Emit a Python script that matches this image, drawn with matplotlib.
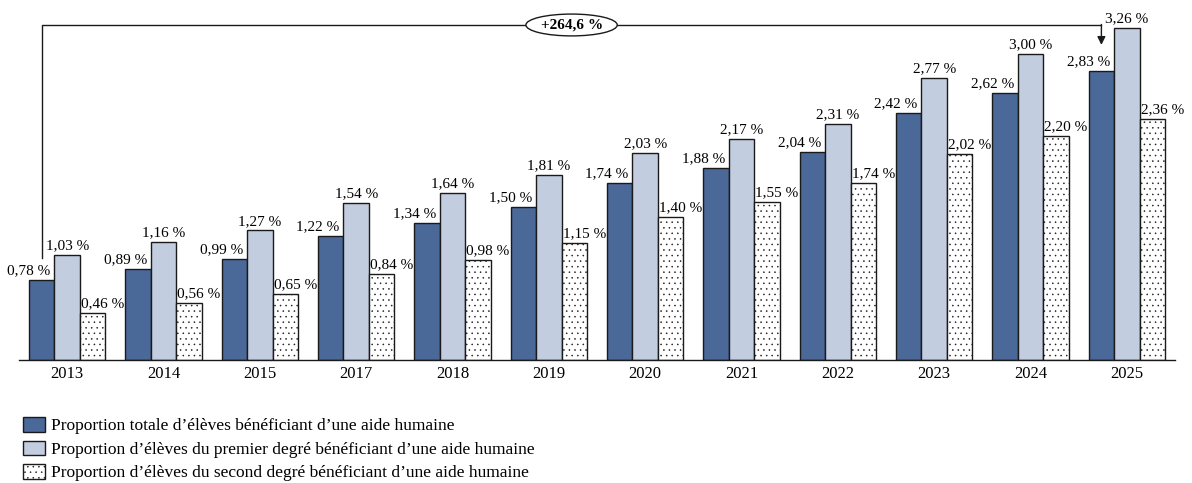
import matplotlib
matplotlib.use("Agg")
import matplotlib.pyplot as plt
from matplotlib.patches import Patch
import numpy as np

plt.rcParams['font.family'] = ['Liberation Serif', 'DejaVu Serif']
plt.rcParams['hatch.linewidth'] = 0.35

years = ["2013", "2014", "2015", "2017", "2018", "2019", "2020", "2021", "2022", "2023", "2024", "2025"]
total = [0.78, 0.89, 0.99, 1.22, 1.34, 1.50, 1.74, 1.88, 2.04, 2.42, 2.62, 2.83]
premier = [1.03, 1.16, 1.27, 1.54, 1.64, 1.81, 2.03, 2.17, 2.31, 2.77, 3.00, 3.26]
second = [0.46, 0.56, 0.65, 0.84, 0.98, 1.15, 1.40, 1.55, 1.74, 2.02, 2.20, 2.36]
labels = ["Proportion totale d\u2019élèves bénéficiant d\u2019une aide humaine",
          "Proportion d\u2019élèves du premier degré bénéficiant d\u2019une aide humaine",
          "Proportion d\u2019élèves du second degré bénéficiant d\u2019une aide humaine"]
evolution = "+264,6\u00a0%"

c_total = "#4a6898"
c_premier = "#c3cde0"
edge = "#1a1a1a"

W, H = 1192, 483
fig = plt.figure(figsize=(W / 100, H / 100), dpi=100)
ax = fig.add_axes([19 / W, 123 / H, 1156 / W, 360 / H])

x = np.arange(len(years))
w = 0.264
fs = 11

def fmt(v):
    return f"{v:.2f}".replace(".", ",") + "\u00a0%"

ax.bar(x - w, total, w, color=c_total, edgecolor=edge, linewidth=1.0)
ax.bar(x, premier, w, color=c_premier, edgecolor=edge, linewidth=1.0)
ax.bar(x + w, second, w, color="white", edgecolor=edge, linewidth=1.0, hatch="...")

for i in range(len(years)):
    ax.annotate(fmt(total[i]), (x[i] - 1.5 * w, total[i]), xytext=(0, 2), textcoords="offset points",
                ha="center", va="bottom", fontsize=fs)
    ax.annotate(fmt(premier[i]), (x[i], premier[i]), xytext=(0, 2), textcoords="offset points",
                ha="center", va="bottom", fontsize=fs)
    ax.annotate(fmt(second[i]), (x[i] + 1.4 * w, second[i]), xytext=(0, 2), textcoords="offset points",
                ha="center", va="bottom", fontsize=fs)

ax.set_xlim(-0.5, len(years) - 0.5)
ax.set_ylim(0, 3.53)
ax.set_xticks(x)
ax.set_xticklabels(years, fontsize=12)
ax.tick_params(axis="x", length=0, pad=4.5)
ax.set_yticks([])
for s in ["top", "left", "right"]:
    ax.spines[s].set_visible(False)
ax.spines["bottom"].set_linewidth(1.0)
ax.spines["bottom"].set_color(edge)

# bracket
xl = x[0] - w
xr = x[-1] - w
ytop = 3.285
ax.plot([xl, xl, xr], [1.0, ytop, ytop], color=edge, linewidth=1.0, clip_on=False)
ax.annotate("", xy=(xr, 3.09), xytext=(xr, ytop + 0.005),
            arrowprops=dict(arrowstyle="-|>", color=edge, lw=1.0, mutation_scale=12, shrinkA=0, shrinkB=0))
ax.text((xl + xr) / 2, ytop, evolution, ha="center", va="center", fontsize=fs, fontweight="bold",
        bbox=dict(boxstyle="ellipse,pad=0.08", facecolor="white", edgecolor=edge, linewidth=1.0))

handles = [Patch(facecolor=c_total, edgecolor=edge, linewidth=1.0),
           Patch(facecolor=c_premier, edgecolor=edge, linewidth=1.0),
           Patch(facecolor="white", edgecolor=edge, linewidth=1.0, hatch="...")]
fig.legend(handles, labels, loc="upper left", bbox_to_anchor=(23 / W, 1 - 417 / H), frameon=False,
           fontsize=12.5, handlelength=1.26, handleheight=0.92, handletextpad=0.33, labelspacing=0.36,
           borderpad=0, borderaxespad=0)

fig.savefig("out.png", dpi=100)
